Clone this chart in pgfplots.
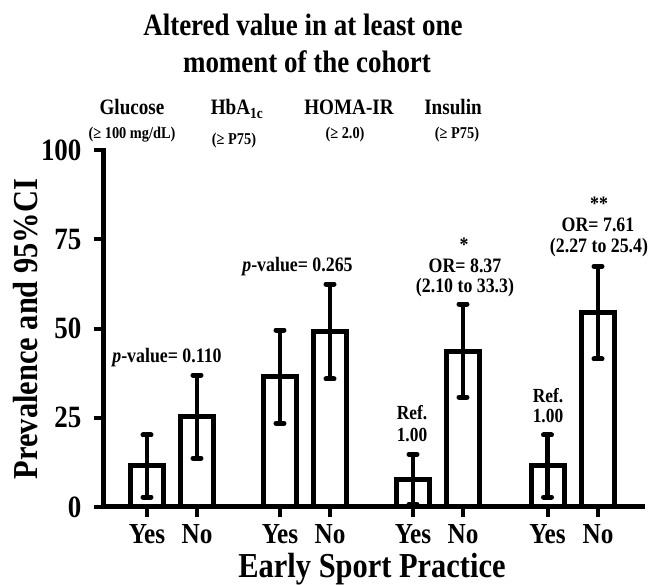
\documentclass[border=0pt]{standalone}
\usepackage{pgfplots}
\pgfplotsset{compat=1.18}
\usepackage{pgfplotstable}
\usepackage{fontspec}
\setmainfont{Liberation Serif}
\usepackage{graphicx}

% bold text, squeezed a little sideways like the original figure
\newcommand{\tx}[2]{\scalebox{0.87}[1]{\fontsize{#1}{#1}\selectfont\bfseries #2}}

% x position (pt from the y axis), prevalence, CI upper and lower distance
\pgfplotstableread{
x      y     ep    em
43     11.7  8.5   8.9
93     25.5  11.5  11.8
176    36.7  12.9  13.2
226    49.3  13.2  13.4
309    7.8   7.0   7.0
359    43.7  13.2  12.9
443.5  11.5  8.7   8.7
494    54.6  12.9  13.1
}\prev

\begin{document}
\begin{tikzpicture}
\path[use as bounding box] (-104pt,-78pt) rectangle (550pt,507pt);
\begin{axis}[
  at={(0pt,0pt)}, anchor=south west,
  width=538pt, height=356.7pt, scale only axis,
  xmin=0, xmax=538, ymin=0, ymax=100,
  axis lines=left,
  axis line style={-, line width=5pt, line cap=rect},
  tick align=outside, major tick length=10pt,
  tick style={line width=4pt, black},
  xtick={43,93,176,226,309,359,443.5,494},
  xticklabels={\tx{29}{Yes},\tx{29}{No},\tx{29}{Yes},\tx{29}{No},
               \tx{29}{Yes},\tx{29}{No},\tx{29}{Yes},\tx{29}{No}},
  xticklabel style={yshift=-4pt},
  ytick={0,25,50,75,100},
  yticklabels={\tx{31}{0},\tx{31}{25},\tx{31}{50},\tx{31}{75},\tx{31}{100}},
  yticklabel style={xshift=-9pt},
  clip=false,
]
\addplot[ybar, bar width=33pt, draw=black, fill=white, line width=5pt,
  error bars/.cd, y dir=both, y explicit,
  error bar style={line width=4.5pt, black},
  error mark options={rotate=90, line width=5pt, mark size=4pt, line cap=round, black}]
  table[x=x, y=y, y error plus=ep, y error minus=em] {\prev};
\end{axis}

% title
\node[anchor=base] at (199pt,471pt) {\tx{31}{Altered value in at least one}};
\node[anchor=base] at (203pt,434pt) {\tx{31}{moment of the cohort}};

% group headers
\node[anchor=base] at (28pt,392pt)  {\tx{22}{Glucose}};
\node[anchor=base] at (133pt,392pt) {\tx{22}{HbA\textsubscript{1c}}};
\node[anchor=base] at (245pt,392pt) {\tx{22}{HOMA-IR}};
\node[anchor=base] at (349pt,392pt) {\tx{22}{Insulin}};
\node[anchor=base] at (28pt,368pt)  {\tx{16.5}{(≥ 100 mg/dL)}};
\node[anchor=base] at (130pt,362pt) {\tx{16.5}{(≥ P75)}};
\node[anchor=base] at (241pt,368pt) {\tx{16.5}{(≥ 2.0)}};
\node[anchor=base] at (353pt,368pt) {\tx{16.5}{(≥ P75)}};

% annotations
\node[anchor=base] at (63pt,144pt)  {\tx{20.5}{\textit{p}-value= 0.110}};
\node[anchor=base] at (193.5pt,235pt) {\tx{20.5}{\textit{p}-value= 0.265}};
\node[anchor=base] at (360pt,255pt) {\tx{20.5}{*}};
\node[anchor=base] at (361pt,234pt) {\tx{20.5}{OR= 8.37}};
\node[anchor=base] at (361pt,214pt) {\tx{20.5}{(2.10 to 33.3)}};
\node[anchor=base] at (495pt,296pt) {\tx{20.5}{**}};
\node[anchor=base] at (494pt,275pt) {\tx{20.5}{OR= 7.61}};
\node[anchor=base] at (495pt,254pt) {\tx{20.5}{(2.27 to 25.4)}};
\node[anchor=base] at (308pt,87pt)  {\tx{20}{Ref.}};
\node[anchor=base] at (308pt,65pt)  {\tx{20}{1.00}};
\node[anchor=base] at (444pt,104pt) {\tx{20}{Ref.}};
\node[anchor=base] at (444pt,84pt)  {\tx{20}{1.00}};

% axis titles
\node[anchor=base, rotate=90] at (-66pt,178pt) {\tx{35}{Prevalence and 95\%CI}};
\node[anchor=base] at (268pt,-71pt) {\tx{35}{Early Sport Practice}};
\end{tikzpicture}
\end{document}
